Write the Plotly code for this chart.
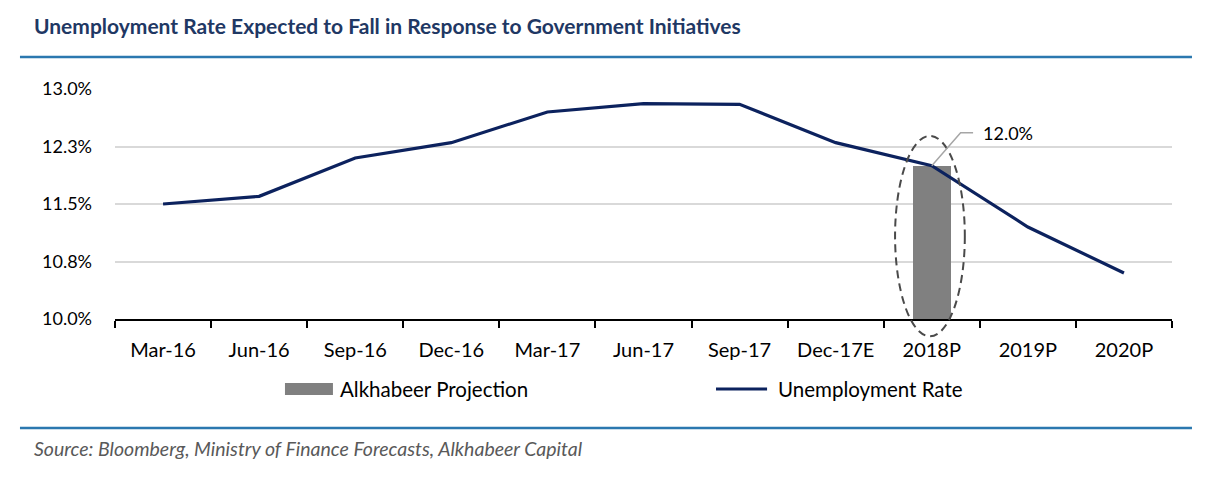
import plotly.graph_objects as go

categories = ["Mar-16", "Jun-16", "Sep-16", "Dec-16", "Mar-17", "Jun-17",
              "Sep-17", "Dec-17E", "2018P", "2019P", "2020P"]
unemployment = [11.50, 11.60, 12.10, 12.30, 12.70, 12.81, 12.80, 12.30, 12.00, 11.20, 10.60]
projection_cat = ["2018P"]
projection_val = [12.0]
y_tickvals = [10.0, 10.75, 11.5, 12.25, 13.0]
y_ticktext = ["10.0%", "10.8%", "11.5%", "12.3%", "13.0%"]

NAVY = "#0C225E"
GRAY = "#808080"
RULE = "#2B78AF"
FONT = "Lato"

fig = go.Figure()
fig.add_trace(go.Bar(x=projection_cat, y=projection_val, name="Alkhabeer Projection",
                     marker=dict(color=GRAY, line=dict(width=0)), width=0.4,
                     showlegend=False))
fig.add_trace(go.Scatter(x=categories, y=unemployment, name="Unemployment Rate",
                         mode="lines", line=dict(color=NAVY, width=3.2),
                         showlegend=False))

shapes = [
    # top and bottom rules
    dict(type="line", xref="paper", yref="paper", x0=-0.0899, x1=1.0189, y0=1.139, y1=1.139,
         line=dict(color=RULE, width=2.5)),
    dict(type="line", xref="paper", yref="paper", x0=-0.0899, x1=1.0189, y0=-0.474, y1=-0.474,
         line=dict(color=RULE, width=2.5)),
    # dashed ellipse around projection bar
    dict(type="circle", xref="paper", yref="paper", x0=0.738, x1=0.804, y0=-0.075, y1=0.796,
         line=dict(color="#4A4A4A", width=2, dash="8px,5px"), layer="above"),
    # leader line for label
    dict(type="path", xref="x", yref="y", path="M 8,12.0 L 8.30,12.43 L 8.43,12.43",
         line=dict(color="#A6A6A6", width=1.5)),
    # legend marks
    dict(type="rect", xref="paper", yref="paper", x0=0.1608, x1=0.2062, y0=-0.330, y1=-0.278,
         fillcolor=GRAY, line=dict(width=0)),
    dict(type="line", xref="paper", yref="paper", x0=0.5686, x1=0.6169, y0=-0.3043, y1=-0.3043,
         line=dict(color=NAVY, width=3.2)),
]

annotations = [
    dict(text="<b>Unemployment Rate Expected to Fall in Response to Government Initiatives</b>",
         xref="paper", yref="paper", x=-0.0785, y=1.278, xanchor="left", yanchor="middle",
         showarrow=False, font=dict(family=FONT, size=21, color="#1F3864")),
    dict(text="12.0%", xref="x", yref="y", x=8.51, y=12.43, xanchor="left", yanchor="middle",
         showarrow=False, font=dict(family=FONT, size=18, color="#000000")),
    dict(text="Alkhabeer Projection", xref="paper", yref="paper", x=0.2110, y=-0.3043,
         xanchor="left", yanchor="middle", showarrow=False,
         font=dict(family=FONT, size=20.5, color="#000000")),
    dict(text="Unemployment Rate", xref="paper", yref="paper", x=0.6254, y=-0.3043,
         xanchor="left", yanchor="middle", showarrow=False,
         font=dict(family=FONT, size=20.5, color="#000000")),
    dict(text="<i>Source: Bloomberg, Ministry of Finance Forecasts, Alkhabeer Capital</i>",
         xref="paper", yref="paper", x=-0.0785, y=-0.565, xanchor="left", yanchor="middle",
         showarrow=False, font=dict(family=FONT, size=19.5, color="#595959")),
]

fig.update_layout(
    width=1214, height=464,
    margin=dict(l=107, r=50, t=81, b=153),
    paper_bgcolor="white", plot_bgcolor="white",
    font=dict(family=FONT, size=18, color="#000000"),
    shapes=shapes, annotations=annotations,
    bargap=0,
    xaxis=dict(type="category", categoryorder="array", categoryarray=categories,
               range=[-0.5, 10.5], showline=True, linecolor="#000000", linewidth=2,
               ticks="outside", tickson="boundaries", ticklen=7, tickwidth=2,
               tickcolor="#000000", showgrid=False, zeroline=False,
               tickfont=dict(family=FONT, size=20, color="#000000"), ticklabelstandoff=12),
    yaxis=dict(range=[10, 13], tickvals=y_tickvals, ticktext=y_ticktext,
               showgrid=True, gridcolor="#D9D9D9", gridwidth=1.5, zeroline=False,
               showline=False, ticks="", ticklabelstandoff=22,
               tickfont=dict(family=FONT, size=18, color="#000000")),
)

fig.write_html("out.html")
